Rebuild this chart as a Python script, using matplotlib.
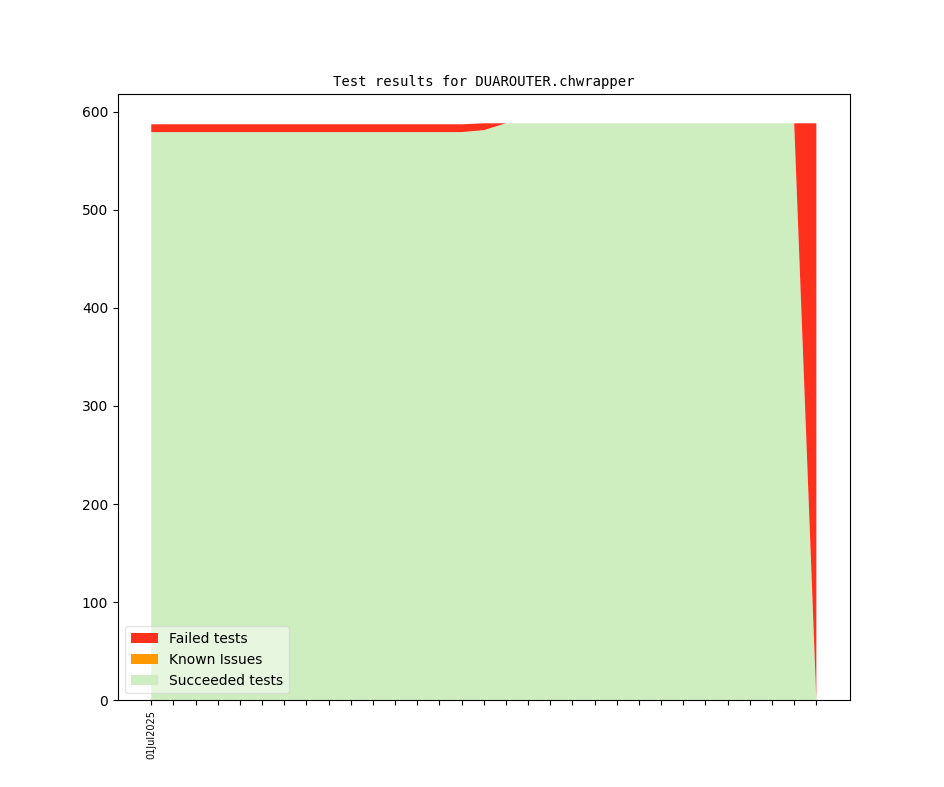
import matplotlib
matplotlib.use("Agg")
import matplotlib.pyplot as plt
import pandas as pd

dates = pd.date_range("2025-07-01", "2025-07-31", freq="D")
tick_labels = ["01Jul2025"] + [""] * 30

succeeded = [579] * 15 + [581] + [588] * 14 + [0]
known = [0] * 31
failed = [8] * 15 + [7] + [0] * 14 + [588]

colors = ["#cfeebf", "#ff9900", "#ff311c"]
labels = ["Succeeded tests", "Known Issues", "Failed tests"]

fig = plt.figure(figsize=(9.44, 7.87), dpi=100)
ax = fig.add_subplot(111)
x = list(range(len(dates)))
polys = ax.stackplot(x, succeeded, known, failed, colors=colors, labels=labels)
ax.set_xticks(x)
ax.set_xticklabels(tick_labels, rotation=90, fontsize=7)
ax.set_title("Test results for DUAROUTER.chwrapper", family="DejaVu Sans Mono", fontsize=10)
handles, labs = ax.get_legend_handles_labels()
ax.legend(handles[::-1], labs[::-1], loc="lower left", framealpha=0.5)
fig.savefig("out.png", dpi=100)
